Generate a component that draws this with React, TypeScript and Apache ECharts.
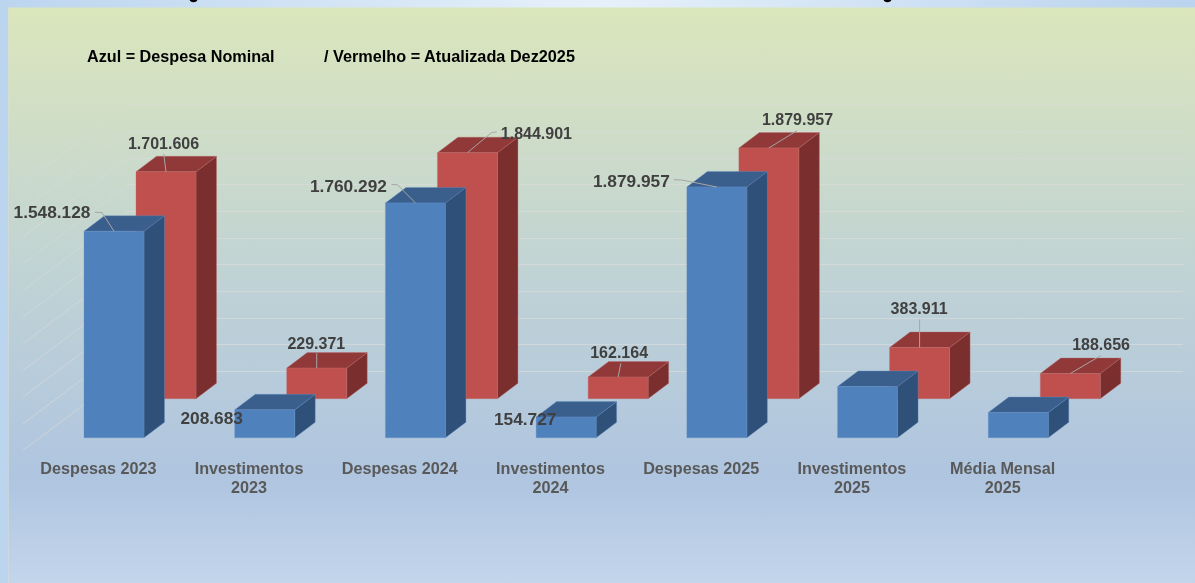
import React, { useEffect, useRef } from "react";
import * as echarts from "echarts";

const categories = [
  "Despesas 2023",
  "Investimentos\n2023",
  "Despesas 2024",
  "Investimentos\n2024",
  "Despesas 2025",
  "Investimentos\n2025",
  "Média Mensal\n2025",
];
const nominalValues = [1548128, 208683, 1760292, 154727, 1879957, 383911, 188656];
const updatedValues = [1701606, 229371, 1844901, 162164, 1879957, 383911, 188656];
const axisTicks = [0, 200000, 400000, 600000, 800000, 1000000, 1200000, 1400000, 1600000, 1800000, 2000000];
const noteNominal = "Azul = Despesa Nominal";
const noteUpdated = "/ Vermelho = Atualizada Dez2025";

type Callout = { dx: number; dy: number; leader: number[][] } | null;
const nominalCallouts: Callout[] = [
  { dx: -62, dy: -19, leader: [[-19, -19], [-12, -18.7]] },
  { dx: -53, dy: 8, leader: [] },
  { dx: -67, dy: -17, leader: [[-24, -18.3], [-18, -18.3]] },
  { dx: -41, dy: 2, leader: [] },
  { dx: -85.5, dy: -6.3, leader: [[-43, -7.3], [-35, -7]] },
  null,
  null,
];
const updatedCallouts: Callout[] = [
  { dx: -2.5, dy: -28.5, leader: [[-2.3, -18]] },
  { dx: -0.4, dy: -24.8, leader: [[0, -15]] },
  { dx: 69, dy: -19.5, leader: [[29.3, -20.7], [24.3, -20.3]] },
  { dx: 1, dy: -25, leader: [[2.6, -13.7]] },
  { dx: 28.7, dy: -28.5, leader: [[28, -17.3]] },
  { dx: -0.5, dy: -38.8, leader: [[0, -28]] },
  { dx: 30.8, dy: -28.8, leader: [[30.5, -18]] },
];

const BAR_W = 60;
const DEPTH_X = 20.5;
const DEPTH_Y = -15.5;
const FONT = '"Liberation Sans", Arial, sans-serif';
const fmt = (v: number) => String(v).replace(/\B(?=(\d{3})+$)/g, ".");

function barRenderer(
  offsetX: number,
  offsetY: number,
  colors: { front: string; top: string; side: string; edge: string },
  callouts: Callout[],
  labelSize: number
) {
  return (params: any, api: any) => {
    const i = api.value(0);
    const v = api.value(1);
    const [cx, yTop] = api.coord([i, v]);
    const [, yBase] = api.coord([i, 0]);
    const l = cx + offsetX;
    const r = l + BAR_W;
    const t = yTop + offsetY;
    const b = yBase + offsetY;
    const edge = { stroke: colors.edge, lineWidth: 1 };
    const children: any[] = [
      {
        type: "polygon",
        shape: { points: [[r, t], [r + DEPTH_X, t + DEPTH_Y], [r + DEPTH_X, b + DEPTH_Y], [r, b]] },
        style: { fill: colors.side, ...edge },
      },
      {
        type: "polygon",
        shape: { points: [[l, t], [l + DEPTH_X, t + DEPTH_Y], [r + DEPTH_X, t + DEPTH_Y], [r, t]] },
        style: { fill: colors.top, ...edge },
      },
      {
        type: "rect",
        shape: { x: l, y: t, width: BAR_W, height: b - t },
        style: { fill: colors.front, ...edge },
      },
    ];
    const c = callouts[i];
    if (c) {
      const ax = l + BAR_W / 2;
      if (c.leader.length) {
        children.push({
          type: "polyline",
          shape: { points: [...c.leader.map(([x, y]) => [ax + x, t + y]), [ax, t]] },
          style: { fill: "none", stroke: "#A6A6A6", lineWidth: 1 },
        });
      }
      children.push({
        type: "text",
        style: {
          x: ax + c.dx,
          y: t + c.dy,
          text: fmt(v),
          fill: "#404040",
          font: `bold ${labelSize}px ${FONT}`,
          align: "center",
          verticalAlign: "middle",
        },
      });
    }
    return { type: "group", children };
  };
}

export default function App() {
  const ref = useRef<HTMLDivElement>(null);
  useEffect(() => {
    const chart = echarts.init(ref.current!, null, { renderer: "svg", width: 1195, height: 583 });
    chart.setOption({
      animation: false,
      graphic: [
        {
          type: "rect", z: -10, silent: true,
          shape: { x: 0, y: 0, width: 1195, height: 583 },
          style: {
            fill: new echarts.graphic.LinearGradient(0, 0, 1, 0, [
              { offset: 0, color: "#BCD5EF" },
              { offset: 0.5, color: "#E6F0FA" },
              { offset: 1, color: "#BAD3EE" },
            ]),
          },
        },
        {
          type: "rect", z: -9, silent: true,
          shape: { x: 8, y: 7.5, width: 1187, height: 575.5 },
          style: {
            fill: new echarts.graphic.LinearGradient(0, 0, 0, 1, [
              { offset: 0, color: "#DBE6BC" },
              { offset: 0.5, color: "#BED1D6" },
              { offset: 0.82, color: "#AFC5E0" },
              { offset: 1, color: "#C3D5EB" },
            ]),
          },
        },
        {
          type: "line", z: -8, silent: true,
          shape: { x1: 8.5, y1: 7.5, x2: 8.5, y2: 583 },
          style: { stroke: "rgba(217,222,215,0.6)", lineWidth: 1 },
        },
        { type: "ellipse", z: -8, silent: true, shape: { cx: 193.5, cy: 0, rx: 3.8, ry: 2.2 }, style: { fill: "#000" } },
        { type: "ellipse", z: -8, silent: true, shape: { cx: 887.5, cy: 0, rx: 3.8, ry: 2.2 }, style: { fill: "#000" } },
        {
          type: "text", silent: true, x: 87, y: 56,
          style: { text: noteNominal, fill: "#000", font: `bold 16.2px ${FONT}`, verticalAlign: "middle" },
        },
        {
          type: "text", silent: true, x: 324, y: 56,
          style: { text: noteUpdated, fill: "#000", font: `bold 16.25px ${FONT}`, verticalAlign: "middle" },
        },
      ],
      grid: [
        { left: 128, top: 104.7, width: 1055, height: 266.7 },
        { left: 23, top: 430, width: 1055, height: 20 },
      ],
      xAxis: [
        {
          type: "category", gridIndex: 0, data: categories,
          axisLine: { show: false }, axisTick: { show: false }, axisLabel: { show: false },
        },
        {
          type: "category", gridIndex: 1, data: categories,
          axisLine: { show: false }, axisTick: { show: false },
          axisLabel: {
            interval: 0, margin: 8, color: "#595959", lineHeight: 19,
            fontFamily: "Liberation Sans", fontWeight: "bold", fontSize: 16.2,
          },
        },
      ],
      yAxis: [
        {
          type: "value", gridIndex: 0, min: 0, max: 2000000, interval: 200000,
          axisLine: { show: false }, axisTick: { show: false }, axisLabel: { show: false },
          splitLine: { show: true, lineStyle: { color: "rgba(217,217,217,0.75)", width: 1 } },
        },
        { type: "value", gridIndex: 1, min: 0, max: 1, show: false, splitLine: { show: false } },
      ],
      series: [
        {
          type: "custom", name: "Parede", xAxisIndex: 0, yAxisIndex: 0, z: 1, silent: true, clip: false,
          data: axisTicks.map((v) => [0, v]),
          encode: { x: 0, y: 1 },
          renderItem: (params: any, api: any) => {
            const [, y] = api.coord([0, api.value(1)]);
            const x = params.coordSys.x;
            return {
              type: "line",
              shape: { x1: x, y1: y, x2: x - 105, y2: y + 79 },
              style: { stroke: "rgba(217,217,217,0.7)", lineWidth: 1 },
            };
          },
        },
        {
          type: "custom", name: "Atualizada Dez2025", xAxisIndex: 0, yAxisIndex: 0, z: 2, silent: true, clip: false,
          data: updatedValues.map((v, i) => [i, v]),
          encode: { x: 0, y: 1 },
          renderItem: barRenderer(-67.35, 27.3, { front: "#C0504D", top: "#913838", side: "#7A2F2E", edge: "rgba(190,110,108,0.35)" }, updatedCallouts, 16),
        },
        {
          type: "custom", name: "Despesa Nominal", xAxisIndex: 0, yAxisIndex: 0, z: 3, silent: true, clip: false,
          data: nominalValues.map((v, i) => [i, v]),
          encode: { x: 0, y: 1 },
          renderItem: barRenderer(-119.35, 66.3, { front: "#4F81BD", top: "#3B5F8D", side: "#2F5078", edge: "rgba(100,145,200,0.35)" }, nominalCallouts, 17.3),
        },
      ],
    });
    return () => chart.dispose();
  }, []);
  return <div ref={ref} style={{ position: "fixed", left: 0, top: 0, width: 1195, height: 583 }} />;
}
